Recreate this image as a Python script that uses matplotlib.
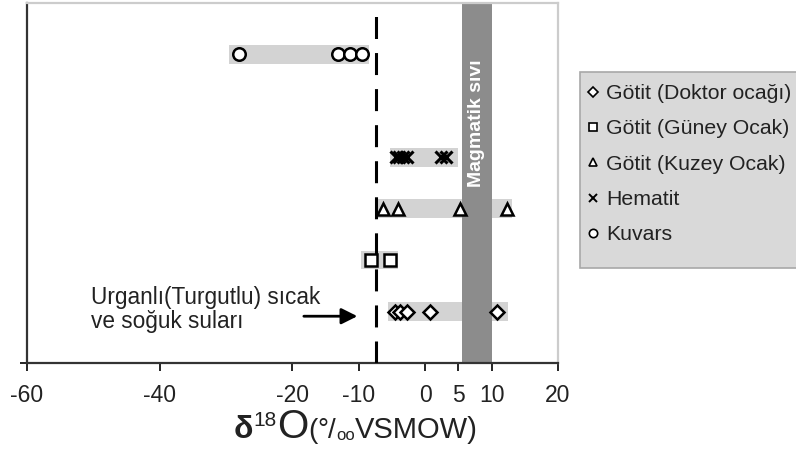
import matplotlib
matplotlib.use("Agg")
import matplotlib.pyplot as plt
from matplotlib.lines import Line2D
from matplotlib.patches import Rectangle

plt.rcParams['font.family'] = ['Liberation Sans', 'DejaVu Sans']

# data (delta 18O, permil VSMOW)
series_names = ["Götit (Doktor ocağı)", "Götit (Güney Ocak)", "Götit (Kuzey Ocak)",
                "Hematit", "Kuvars"]
series_rows = [1, 2, 3, 4, 6]
series_markers = ["D", "s", "^", "x", "o"]
doktor = [-4.5, -3.8, -2.7, 0.8, 10.8]
guney = [-8.1, -5.3]
kuzey = [-6.3, -4.1, 5.3, 12.3]
hematit = [-4.4, -3.9, -3.4, -2.8, 2.4, 3.1]
kuvars = [-28.1, -13.1, -11.3, -9.5]
series_values = [doktor, guney, kuzey, hematit, kuvars]
range_lo = [-5.6, -9.6, -7.2, -5.3, -29.5]
range_hi = [12.5, -4.1, 13.1, 5.0, -8.4]

water_value = -7.4          # Urganli (Turgutlu) waters
magmatic_range = (5.5, 10.0)
xticks = [-60, -40, -20, -10, 0, 5, 10, 20]

fig = plt.figure(figsize=(7.96, 4.72), dpi=100)
ax = fig.add_axes([0.0339, 0.2309, 0.667, 0.7627])

ax.set_xlim(-60, 20)
ax.set_ylim(0, 7)

# light gray range bars
for row, lo, hi in zip(series_rows, range_lo, range_hi):
    ax.barh(row, hi - lo, left=lo, height=0.36, color="#d3d3d3", zorder=1)

# magmatic water band
ax.axvspan(magmatic_range[0], magmatic_range[1], color="#8c8c8c", zorder=2, lw=0)
ax.text(sum(magmatic_range) / 2, 4.67, "Magmatik sıvı", rotation=90, color="white",
        fontsize=14, fontweight="bold", ha="center", va="center", zorder=3)

# points
msizes = {"D": 7, "s": 9, "^": 9, "x": 8, "o": 9}
for row, vals, m in zip(series_rows, series_values, series_markers):
    if m == "x":
        ax.plot(vals, [row] * len(vals), ls="none", marker=m, ms=msizes[m],
                mew=2.2, color="black", zorder=5)
    else:
        ax.plot(vals, [row] * len(vals), ls="none", marker=m, ms=msizes[m],
                mew=1.8, mfc="white", mec="black", zorder=5)

# waters dashed line
ax.axvline(water_value, color="black", lw=2.2, dashes=(7.2, 4.6), zorder=4)

ax.text(-50.4, 1.04, "Urganlı(Turgutlu) sıcak\nve soğuk suları", fontsize=16.3,
        ha="left", va="center", linespacing=1.05, color="#222222")
ax.annotate("", xy=(-9.8, 0.91), xytext=(-18.7, 0.91),
            arrowprops=dict(arrowstyle="-|>", lw=2, color="black", mutation_scale=24))

# axes styling
ax.set_xticks(xticks)
ax.set_xticklabels([str(t) for t in xticks], fontsize=16.5, color="#222222")
ax.set_yticks([0])
ax.set_yticklabels([])
ax.tick_params(axis="x", direction="out", length=6, width=1.2, pad=9)
ax.tick_params(axis="y", direction="out", length=5, width=1.2)
for s in ["left", "bottom"]:
    ax.spines[s].set_color("#333333")
    ax.spines[s].set_linewidth(1.6)
for s in ["top", "right"]:
    ax.spines[s].set_color("#cccccc")
    ax.spines[s].set_linewidth(1.6)

# legend box (runs off the right edge as in the original)
W, H = fig.bbox.width, fig.bbox.height
fig.patches.append(Rectangle((580 / W, 1 - 268 / H), 260 / W, 196 / H,
                             transform=fig.transFigure, facecolor="#d9d9d9",
                             edgecolor="#a8a8a8", lw=1.2, zorder=0))
handles = []
for name, m in zip(series_names, series_markers):
    if m == "x":
        h = Line2D([], [], ls="none", marker=m, ms=6, mew=1.4, color="black")
    else:
        h = Line2D([], [], ls="none", marker=m, ms=6 if m != "D" else 5, mew=1.2,
                   mfc="white", mec="black")
    handles.append(h)
leg = fig.legend(handles, series_names, loc="upper left",
                 bbox_to_anchor=(587 / W, 1 - 84 / H), fontsize=15.3,
                 frameon=False, handlelength=0.6, handletextpad=0.3,
                 labelspacing=0.77, borderpad=0, borderaxespad=0)
for t in leg.get_texts():
    t.set_color("#222222")

# x label built from pieces with different sizes
fig.canvas.draw()
renderer = fig.canvas.get_renderer()
pieces = [("δ", 23, "bold", 0), ("18", 15, "normal", 12), ("O", 29, "normal", 0),
          ("(", 20, "normal", 0), ("°/", 20, "normal", 0), ("oo", 12, "normal", -2),
          ("VSMOW)", 21, "normal", 0)]
x_px = 234
base_px = 438
for s, size, weight, dy in pieces:
    t = fig.text(x_px / W, 1 - (base_px - dy) / H, s, fontsize=size, fontweight=weight,
                 ha="left", va="baseline", color="#222222")
    bb = t.get_window_extent(renderer=renderer)
    x_px = bb.x1

fig.savefig("out.png", dpi=100)
